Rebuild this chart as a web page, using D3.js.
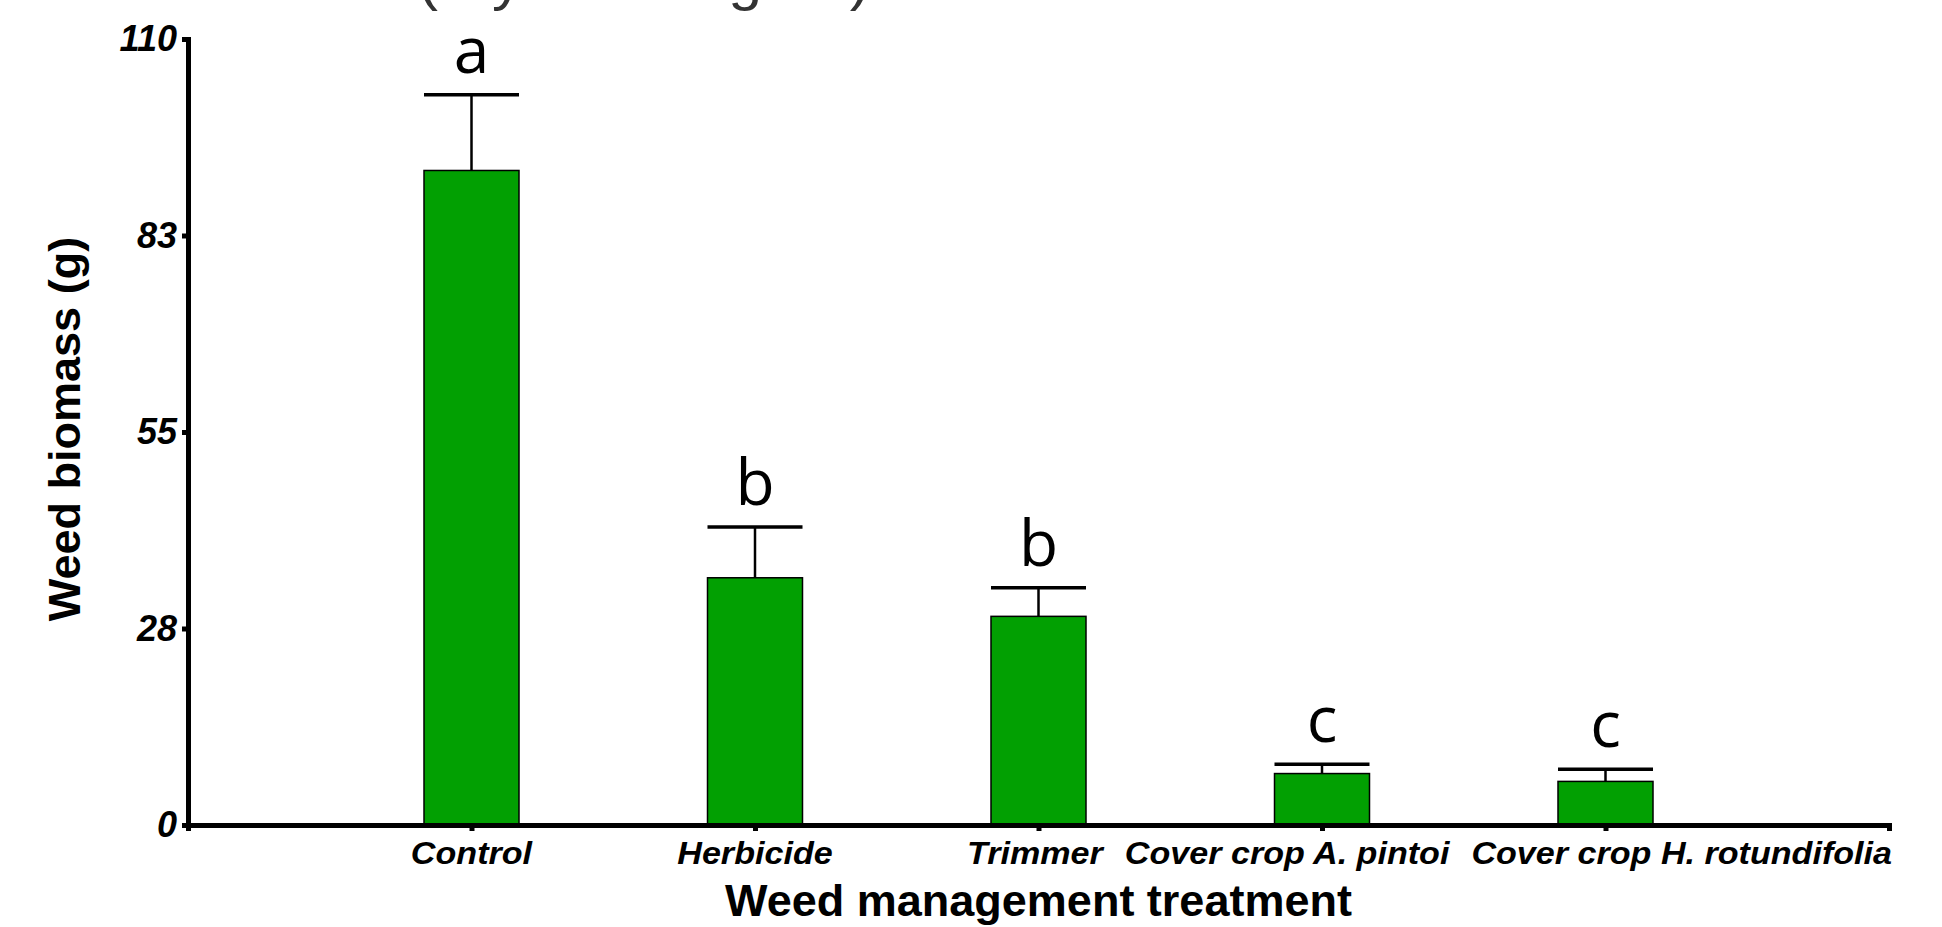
<!DOCTYPE html>
<html>
<head>
<meta charset="utf-8">
<script src="https://cdn.jsdelivr.net/npm/d3@7"></script>
<style>
  html, body { margin: 0; padding: 0; background: #fff; }
  svg { display: block; }
</style>
</head>
<body>
<svg id="chart" width="1942" height="927"></svg>
<script>
// ---------------- data ----------------
const categories = ["Control", "Herbicide", "Trimmer", "Cover crop A. pintoi", "Cover crop H. rotundifolia"];
const means = [91.6, 34.6, 29.2, 7.2, 6.1];
const errors = [10.6, 7.1, 4.0, 1.3, 1.7];
const letters = ["a", "b", "b", "c", "c"];
const yTickValues = [0, 27.5, 55, 82.5, 110];
const yTickLabels = ["0", "28", "55", "83", "110"];
const yTitle = "Weed biomass (g)";
const xTitle = "Weed management treatment";
const topTitle = "Weed biomass (dry matter g/m²)";

// ---------------- layout ----------------
const svg = d3.select("#chart");
const X0 = 188, X1 = 1889, Y0 = 825, Y1 = 39;
const barW = 95;
const green = "#02a002";

const x = d3.scalePoint().domain(categories).range([X0, X1]).padding(1);
const y = d3.scaleLinear().domain([0, 110]).range([Y0, Y1]);

// cut-off title at the very top (only the bottoms of its glyphs are visible)
svg.append("text")
  .attr("x", 0).attr("y", -1)
  .attr("font-family", "Liberation Sans, Arial, sans-serif")
  .attr("font-size", 58)
  .attr("fill", "#333")
  .attr("textLength", 870).attr("lengthAdjust", "spacingAndGlyphs")
  .text(topTitle);

// bars
svg.append("g").selectAll("rect")
  .data(categories)
  .join("rect")
  .attr("x", d => x(d) - barW / 2)
  .attr("width", barW)
  .attr("y", (d, i) => y(means[i]))
  .attr("height", (d, i) => y(0) - y(means[i]))
  .attr("fill", green)
  .attr("stroke", "#000")
  .attr("stroke-width", 1.5);

// error bars (upper only)
const eb = svg.append("g");
categories.forEach((c, i) => {
  const cx = x(c);
  eb.append("line")
    .attr("x1", cx).attr("x2", cx)
    .attr("y1", y(means[i])).attr("y2", y(means[i] + errors[i]))
    .attr("stroke", "#000").attr("stroke-width", 2.5);
  eb.append("line")
    .attr("x1", cx - barW / 2).attr("x2", cx + barW / 2)
    .attr("y1", y(means[i] + errors[i])).attr("y2", y(means[i] + errors[i]))
    .attr("stroke", "#000").attr("stroke-width", 3.5);
});

// significance letters
svg.append("g").selectAll("text")
  .data(categories)
  .join("text")
  .attr("x", d => x(d))
  .attr("y", (d, i) => y(means[i] + errors[i]) - 22)
  .attr("text-anchor", "middle")
  .attr("font-family", "Open Sans, sans-serif")
  .attr("font-size", 64)
  .attr("fill", "#000")
  .text((d, i) => letters[i]);

// y axis
const yAxis = d3.axisLeft(y)
  .tickValues(yTickValues)
  .tickFormat((d, i) => yTickLabels[i])
  .tickSize(6)
  .tickSizeOuter(0)
  .tickPadding(5);
const gy = svg.append("g").attr("transform", `translate(${X0},0)`).call(yAxis);
gy.select(".domain").attr("stroke-width", 5).attr("stroke-linecap", "square");
gy.selectAll(".tick line").attr("stroke-width", 5);
gy.selectAll(".tick text")
  .attr("font-family", "Liberation Sans, Arial, sans-serif")
  .attr("font-weight", "bold")
  .attr("font-style", "italic")
  .attr("font-size", 36)
  .attr("fill", "#000");

// x axis
const xAxis = d3.axisBottom(x).tickSize(6).tickSizeOuter(6).tickFormat("");
const gx = svg.append("g").attr("transform", `translate(0,${Y0})`).call(xAxis);
gx.select(".domain").attr("stroke-width", 5);
gx.selectAll(".tick line").attr("stroke-width", 5);

// x tick labels: last one ends at the axis end, the others are pushed left to avoid overlap
const stretch = 1.1;
const labelY = Y0 + 39;
const lab = svg.append("g").selectAll("text")
  .data(categories)
  .join("text")
  .attr("y", labelY)
  .attr("font-family", "Liberation Sans, Arial, sans-serif")
  .attr("font-weight", "bold")
  .attr("font-style", "italic")
  .attr("font-size", 31)
  .attr("fill", "#000")
  .text(d => d);
const boxes = [];
lab.each(function (d) {
  boxes.push({ c: x(d), w: this.getComputedTextLength() * stretch });
});
const limit = X1 + 3, gap = 22;
const n = boxes.length;
boxes[n - 1].c = limit - boxes[n - 1].w / 2;
for (let i = n - 2; i >= 0; i--) {
  const maxRight = boxes[i + 1].c - boxes[i + 1].w / 2 - gap;
  if (boxes[i].c + boxes[i].w / 2 > maxRight) boxes[i].c = maxRight - boxes[i].w / 2;
}
lab.attr("x", (d, i) => boxes[i].c - boxes[i].w / 2)
  .attr("textLength", (d, i) => boxes[i].w)
  .attr("lengthAdjust", "spacingAndGlyphs");

// axis titles
svg.append("text")
  .attr("x", (X0 + X1) / 2).attr("y", 916)
  .attr("text-anchor", "middle")
  .attr("font-family", "Liberation Sans, Arial, sans-serif")
  .attr("font-weight", "bold")
  .attr("font-size", 45)
  .attr("fill", "#000")
  .text(xTitle);

svg.append("text")
  .attr("transform", `translate(80,${(Y0 + Y1) / 2 - 3}) rotate(-90)`)
  .attr("text-anchor", "middle")
  .attr("font-family", "Liberation Sans, Arial, sans-serif")
  .attr("font-weight", "bold")
  .attr("font-size", 45)
  .attr("fill", "#000")
  .text(yTitle);
</script>
</body>
</html>
